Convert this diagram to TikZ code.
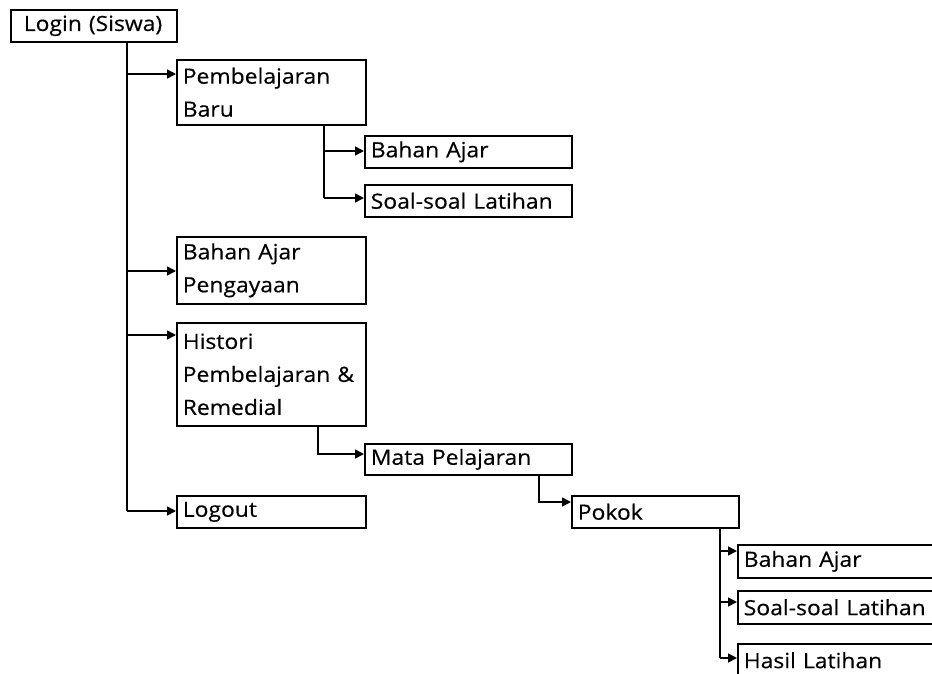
\documentclass[tikz,border=0pt]{standalone}
\usepackage{fontspec}
\newfontfamily\boxfont{Open Sans}[FakeStretch=1.09,FakeBold=0.4]
\usetikzlibrary{arrows.meta}
\begin{document}
\begin{tikzpicture}[x=1pt,y=-1pt,
  box/.style={draw, line width=1.6pt, anchor=north west, inner ysep=0pt,
    inner xsep=6pt, align=left, font=\boxfont\fontsize{21}{33}\selectfont},
  conn/.style={line width=1.6pt},
  arr/.style={line width=1.6pt, -{Triangle[length=9pt,width=9pt]}}]
\clip (0,0) rectangle (932,673);
\fill[white] (0,0) rectangle (932,673);
% boxes
\node[box, minimum width=166pt, minimum height=32pt, text width=140pt, inner xsep=13pt] (login) at (10,9) {Login (Siswa)};
\node[box, minimum width=189pt, minimum height=65pt, text width=177pt] (pb) at (176,59) {Pembelajaran\\Baru};
\node[box, minimum width=207pt, minimum height=32pt, text width=195pt] (ba1) at (364,135) {Bahan Ajar};
\node[box, minimum width=207pt, minimum height=32pt, text width=195pt] (sl1) at (364,184) {Soal-soal Latihan};
\node[box, minimum width=189pt, minimum height=67pt, text width=177pt] (bap) at (176,236) {Bahan Ajar\\Pengayaan};
\node[box, minimum width=189pt, minimum height=103pt, text width=177pt] (hist) at (176,322) {Histori\\Pembelajaran \&\\Remedial};
\node[box, minimum width=207pt, minimum height=31pt, text width=195pt] (mata) at (364,443) {Mata Pelajaran};
\node[box, minimum width=189pt, minimum height=32pt, text width=177pt] (logout) at (176,495) {Logout};
\node[box, minimum width=167pt, minimum height=32pt, text width=155pt] (pokok) at (571,495) {Pokok};
\node[box, minimum width=260pt, minimum height=33pt, text width=248pt] (ba2) at (737,544) {Bahan Ajar};
\node[box, minimum width=260pt, minimum height=33pt, text width=248pt] (sl2) at (737,590) {Soal-soal Latihan};
\node[box, minimum width=260pt, minimum height=33pt, text width=248pt] (hasil) at (737,643) {Hasil Latihan};
% trunk from login
\coordinate (tA) at (127,74);
\coordinate (tB) at (127,271);
\coordinate (tC) at (127,335);
\coordinate (tD) at (127,511);
\draw[conn] (login.south -| tD) -- (tD);
\draw[arr] (tA) -- (tA -| pb.west);
\draw[arr] (tB) -- (tB -| bap.west);
\draw[arr] (tC) -- (tC -| hist.west);
\draw[arr] (tD) -- (tD -| logout.west);
% pembelajaran baru children
\coordinate (pA) at (324,151);
\coordinate (pB) at (324,198);
\draw[conn] (pb.south -| pB) -- (pB);
\draw[arr] (pA) -- (pA -| ba1.west);
\draw[arr] (pB) -- (pB -| sl1.west);
% histori -> mata
\coordinate (hA) at (318,454);
\draw[arr] (hist.south -| hA) -- (hA) -- (hA -| mata.west);
% mata -> pokok
\coordinate (mA) at (539,502);
\draw[arr] (mata.south -| mA) -- (mA) -- (mA -| pokok.west);
% pokok children
\coordinate (kA) at (720,551);
\coordinate (kB) at (720,602);
\coordinate (kC) at (720,658);
\draw[conn] (pokok.south -| kC) -- (kC);
\draw[arr] (kA) -- (kA -| ba2.west);
\draw[arr] (kB) -- (kB -| sl2.west);
\draw[arr] (kC) -- (kC -| hasil.west);
\end{tikzpicture}
\end{document}
